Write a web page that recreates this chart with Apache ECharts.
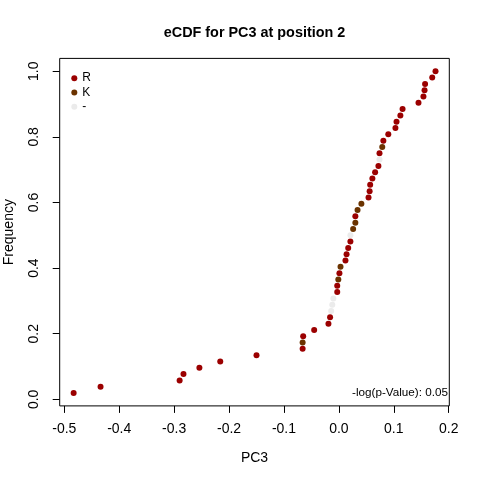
<!DOCTYPE html>
<html><head><meta charset="utf-8">
<script src="https://cdn.jsdelivr.net/npm/echarts@6/dist/echarts.min.js"></script>
<style>html,body{margin:0;padding:0;background:#fff}#c{width:480px;height:480px}</style>
</head><body><div id="c"></div>
<script>
// sorted PC3 values and their residue group
const pc3Values = [
  -0.483, -0.434, -0.290, -0.283, -0.254, -0.216, -0.150, -0.066, -0.066, -0.065,
  -0.045, -0.019, -0.016, -0.014, -0.012, -0.010, -0.003, -0.003, -0.001, 0.001,
   0.003,  0.012,  0.014,  0.017,  0.021,  0.021,  0.026,  0.030,  0.030, 0.034,
   0.041,  0.054,  0.056,  0.057,  0.061,  0.066,  0.072,  0.074,  0.074, 0.079,
   0.081,  0.090,  0.103,  0.105,  0.112,  0.116,  0.145,  0.154,  0.156, 0.157,
   0.170,  0.176
];
const groups = [
  'R','R','R','R','R','R','R','R','K','R',
  'R','R','R','-','-','-','R','R','K','R',
  'K','R','R','R','R','-','K','K','R','K',
  'K','R','R','R','R','R','R','-','R','K',
  'R','R','R','R','R','R','R','R','R','R',
  'R','R'
];
const groupNames = ['R', 'K', '-'];
const xTicks = [-0.5, -0.4, -0.3, -0.2, -0.1, 0.0, 0.1, 0.2];
const yTicks = [0.0, 0.2, 0.4, 0.6, 0.8, 1.0];
const titleText = 'eCDF for PC3 at position 2';
const noteText = '-log(p-Value): 0.05';

const colors = {'R': '#9b0000', 'K': '#6b3300', '-': '#ebebeb'};
const FONT = '"Liberation Sans", Arial, sans-serif';
const n = pc3Values.length;
const series = groupNames.map(g => ({
  name: g,
  type: 'scatter',
  symbol: 'circle',
  symbolSize: 6,
  itemStyle: {color: colors[g], opacity: 1},
  data: pc3Values.map((v, i) => [v, (i + 1) / n, groups[i]]).filter(p => p[2] === g).map(p => [p[0], p[1]]),
  silent: true
}));

const chart = echarts.init(document.getElementById('c'), null, {renderer: 'canvas'});
chart.setOption({
  animation: false,
  backgroundColor: '#fff',
  textStyle: {fontFamily: FONT},
  grid: {left: 59.7, right: 30.7, top: 58.4, bottom: 74.1, show: true, borderColor: '#000', borderWidth: 1, backgroundColor: 'transparent', containLabel: false, outerBoundsMode: 'none'},
  legend: {
    orient: 'vertical', left: 66.3, top: 66, itemWidth: 6, itemHeight: 6, itemGap: 0, itemTextGap: 8,
    icon: 'circle', selectedMode: false,
    textStyle: {fontFamily: FONT, fontSize: 12, color: '#000', lineHeight: 14.3},
    data: groupNames
  },
  xAxis: {
    type: 'value', min: -0.5084, max: 0.2011,
    name: 'PC3', nameLocation: 'middle', nameGap: 45.5,
    nameTextStyle: {fontFamily: FONT, fontSize: 14, color: '#000'},
    axisLine: {show: false, onZero: false},
    axisTick: {show: true, length: 7, lineStyle: {color: '#000'}, customValues: xTicks},
    axisLabel: {show: true, margin: 16, fontFamily: FONT, fontSize: 14, color: '#000', customValues: xTicks, formatter: v => v.toFixed(1)},
    splitLine: {show: false}
  },
  yAxis: {
    type: 'value', min: -0.02, max: 1.0392,
    name: 'Frequency', nameLocation: 'middle', nameGap: 43.5,
    nameTextStyle: {fontFamily: FONT, fontSize: 14, color: '#000'},
    axisLine: {show: false, onZero: false},
    axisTick: {show: true, length: 7, lineStyle: {color: '#000'}, customValues: yTicks},
    axisLabel: {show: true, margin: 19, rotate: 90, fontFamily: FONT, fontSize: 14, color: '#000', customValues: yTicks, formatter: v => v.toFixed(1)},
    splitLine: {show: false}
  },
  graphic: [
    {type: 'text', silent: true,
     style: {text: titleText, x: 254.5, y: 33, textAlign: 'center', textVerticalAlign: 'middle', font: 'bold 14.4px ' + FONT, fill: '#000'}},
    {type: 'text', silent: true,
     style: {text: noteText, x: 448, y: 393, textAlign: 'right', textVerticalAlign: 'middle', font: '11.7px ' + FONT, fill: '#000'}}
  ],
  series: series
});
</script>
</body></html>
